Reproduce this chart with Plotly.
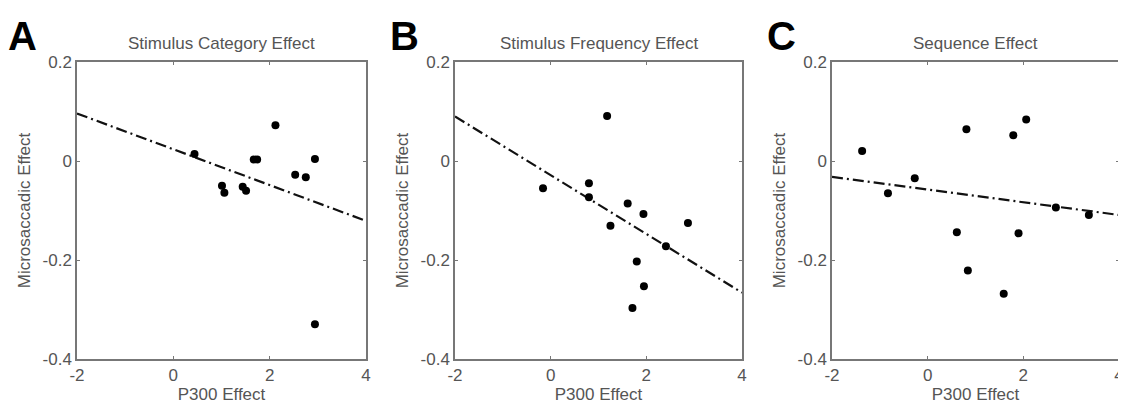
import plotly.graph_objects as go

# Panel A: Stimulus Category Effect
a_x = [0.44, 1.01, 1.06, 1.44, 1.51, 1.67, 1.74, 2.12, 2.53, 2.75, 2.94, 2.94]
a_y = [0.014, -0.050, -0.064, -0.052, -0.060, 0.003, 0.003, 0.072, -0.028, -0.033, 0.004, -0.330]
a_fit_x = [-2, 4]
a_fit_y = [0.096, -0.121]

# Panel B: Stimulus Frequency Effect
b_x = [1.18, -0.16, 0.80, 0.80, 1.61, 1.94, 1.25, 2.87, 2.41, 1.80, 1.95, 1.71]
b_y = [0.091, -0.055, -0.045, -0.073, -0.086, -0.107, -0.131, -0.125, -0.172, -0.203, -0.253, -0.297]
b_fit_x = [-2, 4]
b_fit_y = [0.090, -0.266]

# Panel C: Sequence Effect
c_x = [-1.37, -0.83, -0.27, 0.81, 0.61, 0.84, 1.59, 1.79, 2.06, 1.90, 2.68, 3.37]
c_y = [0.020, -0.065, -0.035, 0.064, -0.144, -0.221, -0.268, 0.052, 0.084, -0.146, -0.094, -0.109]
c_fit_x = [-2, 4]
c_fit_y = [-0.032, -0.109]

titles = ["Stimulus Category Effect", "Stimulus Frequency Effect", "Sequence Effect"]
letters = ["A", "B", "C"]
x_ticks = [-2, 0, 2, 4]
x_tick_labels = ["-2", "0", "2", "4"]
y_ticks = [0.2, 0, -0.2, -0.4]
y_tick_labels = ["0.2", "0", "-0.2", "-0.4"]

panels = [(a_x, a_y, a_fit_x, a_fit_y), (b_x, b_y, b_fit_x, b_fit_y), (c_x, c_y, c_fit_x, c_fit_y)]

# the page body has an 8px default margin, so the figure is sized to fit the window
OFF = 8
W, H = 1126 - OFF, 410 - OFF
x_domains_px = [(77, 366), (455, 742), (832, 1119)]
y_top_px, y_bot_px = 62, 359
letter_x_px = [6, 388, 765]
title_y_px = 43
letter_y_px = 36


def fx_(p):
    return (p - OFF) / W


def fy_(p):
    return 1 - (p - OFF) / H


text_col = "#555555"
axis_col = "#777777"
font = "Liberation Sans, Arial, sans-serif"
fs = 17

fig = go.Figure()
layout = dict(
    template="none",
    width=W, height=H,
    margin=dict(l=0, r=0, t=0, b=0, pad=0),
    autosize=False,
    paper_bgcolor="white", plot_bgcolor="white",
    showlegend=False,
    font=dict(family=font, color=text_col, size=fs),
)
annotations = []

for i, (px, py, lx, ly) in enumerate(panels):
    n = "" if i == 0 else str(i + 1)
    xa, ya = "x" + n, "y" + n
    fig.add_trace(go.Scatter(x=lx, y=ly, mode="lines", xaxis=xa, yaxis=ya,
                             line=dict(color="#111111", width=2.2, dash="11px,4px,2px,4px")))
    fig.add_trace(go.Scatter(x=px, y=py, mode="markers", xaxis=xa, yaxis=ya,
                             marker=dict(color="black", size=8)))
    d0, d1 = x_domains_px[i]
    layout["xaxis" + n] = dict(
        domain=[fx_(d0), fx_(d1)], range=[-2, 4], anchor=ya, automargin=False,
        tickvals=x_ticks, ticktext=x_tick_labels,
        ticks="inside", ticklen=3, tickcolor=axis_col,
        showline=True, linecolor=axis_col, linewidth=1.5, mirror="ticks",
        showgrid=False, zeroline=False, ticklabeloverflow="allow",
        tickfont=dict(size=fs, color=text_col),
        title=dict(text="P300 Effect", font=dict(size=fs, color=text_col), standoff=4),
    )
    layout["yaxis" + n] = dict(
        domain=[fy_(y_bot_px), fy_(y_top_px)], range=[-0.4, 0.2], anchor=xa, automargin=False,
        tickvals=y_ticks, ticktext=y_tick_labels,
        ticks="inside", ticklen=3, tickcolor=axis_col,
        showline=True, linecolor=axis_col, linewidth=1.5, mirror="ticks",
        showgrid=False, zeroline=False, ticklabeloverflow="allow",
        tickfont=dict(size=fs, color=text_col),
        title=dict(text="Microsaccadic Effect", font=dict(size=fs, color=text_col), standoff=8),
    )
    annotations.append(dict(
        text=titles[i], xref="paper", yref="paper",
        x=fx_((d0 + d1) / 2), y=fy_(title_y_px), xanchor="center", yanchor="middle",
        showarrow=False, font=dict(size=fs, color=text_col),
    ))
    annotations.append(dict(
        text="<b>" + letters[i] + "</b>", xref="paper", yref="paper",
        x=fx_(letter_x_px[i]), y=fy_(letter_y_px), xanchor="left", yanchor="middle",
        showarrow=False, font=dict(size=40, color="black", family="Liberation Sans, Arial, sans-serif"),
    ))

layout["annotations"] = annotations
fig.update_layout(**layout)
fig.write_html("out.html")
